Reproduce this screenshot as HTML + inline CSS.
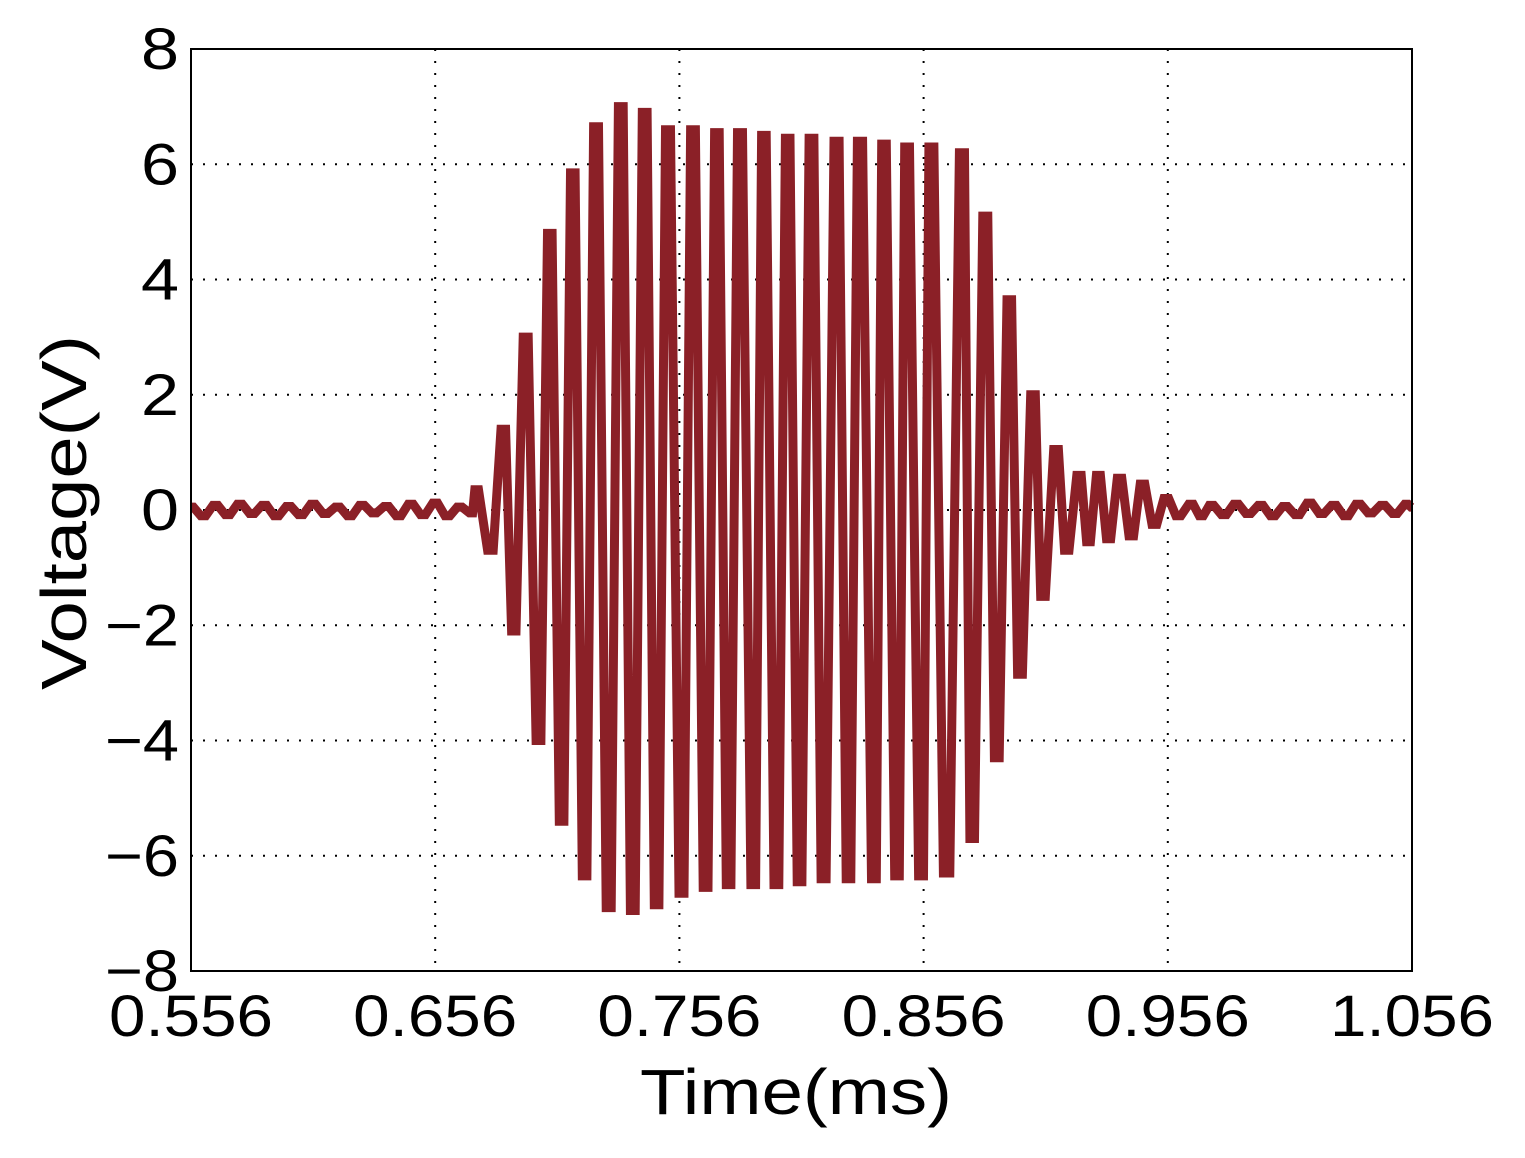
<!DOCTYPE html>
<html><head><meta charset="utf-8"><style>
html,body{margin:0;padding:0;background:#fff;}
svg{display:block;font-family:"Liberation Sans",Arial,sans-serif;}
</style></head><body>
<svg id="chart" width="1525" height="1158" viewBox="0 0 1525 1158" xmlns="http://www.w3.org/2000/svg">
<g id="grid"></g>
<g id="series"></g>
<rect x="191" y="49" width="1221" height="922" fill="none" stroke="#000" stroke-width="2"/>
<g id="ticks"></g>
<text x="640" y="1114" font-size="64" textLength="312" lengthAdjust="spacingAndGlyphs">Time(ms)</text>
<text transform="translate(86,690) rotate(-90)" font-size="64" textLength="355" lengthAdjust="spacingAndGlyphs">Voltage(V)</text>
</svg>
<script>
const xTicks=[0.556,0.656,0.756,0.856,0.956,1.056];
const xTickLabels=["0.556","0.656","0.756","0.856","0.956","1.056"];
const yTicks=[-8,-6,-4,-2,0,2,4,6,8];
const yTickLabels=["\u22128","\u22126","\u22124","\u22122","0","2","4","6","8"];
const times=[0.556,0.561,0.566,0.571,0.576,0.581,0.586,0.591,0.596,0.601,0.606,0.611,0.616,0.621,0.626,0.631,0.636,0.641,0.646,0.651,0.656,0.661,0.666,0.671,
0.6725,0.6787,0.6840,0.6881,0.6930,0.6984,0.7029,0.7078,0.7123,0.7172,0.7218,0.7271,0.7320,0.7369,0.7418,0.7467,0.7512,0.7570,0.7615,0.7668,0.7713,0.7762,0.7807,0.7864,0.7905,0.7958,0.8003,0.8052,0.8101,0.8150,0.8204,0.8253,0.8298,0.8359,0.8396,0.8453,0.8490,0.8552,0.8589,0.8654,0.8720,0.8757,0.8814,0.8859,0.8912,0.8953,0.9010,0.9047,0.9104,0.9145,0.9198,0.9235,0.9276,0.9317,0.9362,0.9411,0.9456,0.9505,0.9554,0.9603,0.9656,0.9697,0.9738,
0.979,0.984,0.989,0.994,0.999,1.004,1.009,1.014,1.019,1.024,1.029,1.034,1.039,1.044,1.049,1.054,1.056];
const volts=[0.05,-0.1,0.08,-0.08,0.1,-0.06,0.08,-0.1,0.06,-0.08,0.1,-0.06,0.05,-0.1,0.08,-0.05,0.06,-0.1,0.1,-0.08,0.12,-0.1,0.05,-0.05,
0.35,-0.7,1.4,-2.1,3.0,-4.0,4.8,-5.4,5.85,-6.35,6.65,-6.9,7.0,-6.95,6.9,-6.85,6.6,-6.65,6.6,-6.55,6.55,-6.5,6.55,-6.5,6.5,-6.5,6.45,-6.45,6.45,-6.4,6.4,-6.4,6.4,-6.4,6.35,-6.35,6.3,-6.35,6.3,-6.3,6.2,-5.7,5.1,-4.3,3.65,-2.85,2.0,-1.5,1.05,-0.7,0.6,-0.55,0.6,-0.5,0.55,-0.45,0.45,-0.25,0.2,-0.1,0.1,-0.1,0.08,
-0.08,0.1,-0.06,0.08,-0.1,0.06,-0.08,0.12,-0.06,0.08,-0.1,0.1,-0.05,0.08,-0.06,0.1,0.05];
const X0=191,X1=1412,Y0=971,Y1=49;
const xs=t=>X0+(t-0.556)/(1.056-0.556)*(X1-X0);
const ys=v=>Y0-(v+8)/16*(Y0-Y1);
const NS="http://www.w3.org/2000/svg";
const grid=document.getElementById('grid'),ticks=document.getElementById('ticks'),series=document.getElementById('series');
xTicks.forEach((t,i)=>{
  const x=xs(t);
  if(i>0&&i<xTicks.length-1){
    const l=document.createElementNS(NS,'line');
    
    
    l.setAttribute('x1',x);l.setAttribute('x2',x);l.setAttribute('y1',Y1);l.setAttribute('y2',Y0);
    l.setAttribute('stroke','#000');l.setAttribute('stroke-width','2');l.setAttribute('stroke-dasharray','2 10');
    grid.appendChild(l);
  }
  const tx=document.createElementNS(NS,'text');
  
  
  tx.setAttribute('x',x-82);tx.setAttribute('y',1036);tx.setAttribute('font-size','58');
  tx.setAttribute('textLength','164');tx.setAttribute('lengthAdjust','spacingAndGlyphs');
  tx.textContent=xTickLabels[i];ticks.appendChild(tx);
});
yTicks.forEach((v,i)=>{
  const y=ys(v);
  if(i>0&&i<yTicks.length-1){
    const l=document.createElementNS(NS,'line');
    
    
    l.setAttribute('x1',X0);l.setAttribute('x2',X1);l.setAttribute('y1',y);l.setAttribute('y2',y);
    l.setAttribute('stroke','#000');l.setAttribute('stroke-width','2');l.setAttribute('stroke-dasharray','2 10');
    grid.appendChild(l);
  }
  const tx=document.createElementNS(NS,'text');
  
  
  const w=yTickLabels[i].length>1?74:38;
  tx.setAttribute('x',179-w);tx.setAttribute('y',y+20);tx.setAttribute('font-size','58');
  tx.setAttribute('textLength',w);tx.setAttribute('lengthAdjust','spacingAndGlyphs');
  tx.textContent=yTickLabels[i];ticks.appendChild(tx);
});
let d='';
times.forEach((t,i)=>{
  const x=xs(t),y=ys(volts[i]);
  const prev=i>0?xs(times[i-1]):x, next=i<times.length-1?xs(times[i+1]):x;
  const a=x-(x-prev)*0.2, b=x+(next-x)*0.2;
  d+=(i?'L':'M')+a.toFixed(1)+','+y.toFixed(1)+'L'+b.toFixed(1)+','+y.toFixed(1);
});
const p=document.createElementNS(NS,'path');


p.setAttribute('d',d);p.setAttribute('fill','none');p.setAttribute('stroke','#8b2027');p.setAttribute('stroke-width','9');p.setAttribute('stroke-linejoin','miter');p.setAttribute('stroke-miterlimit','3');
series.appendChild(p);
</script>
</body></html>
